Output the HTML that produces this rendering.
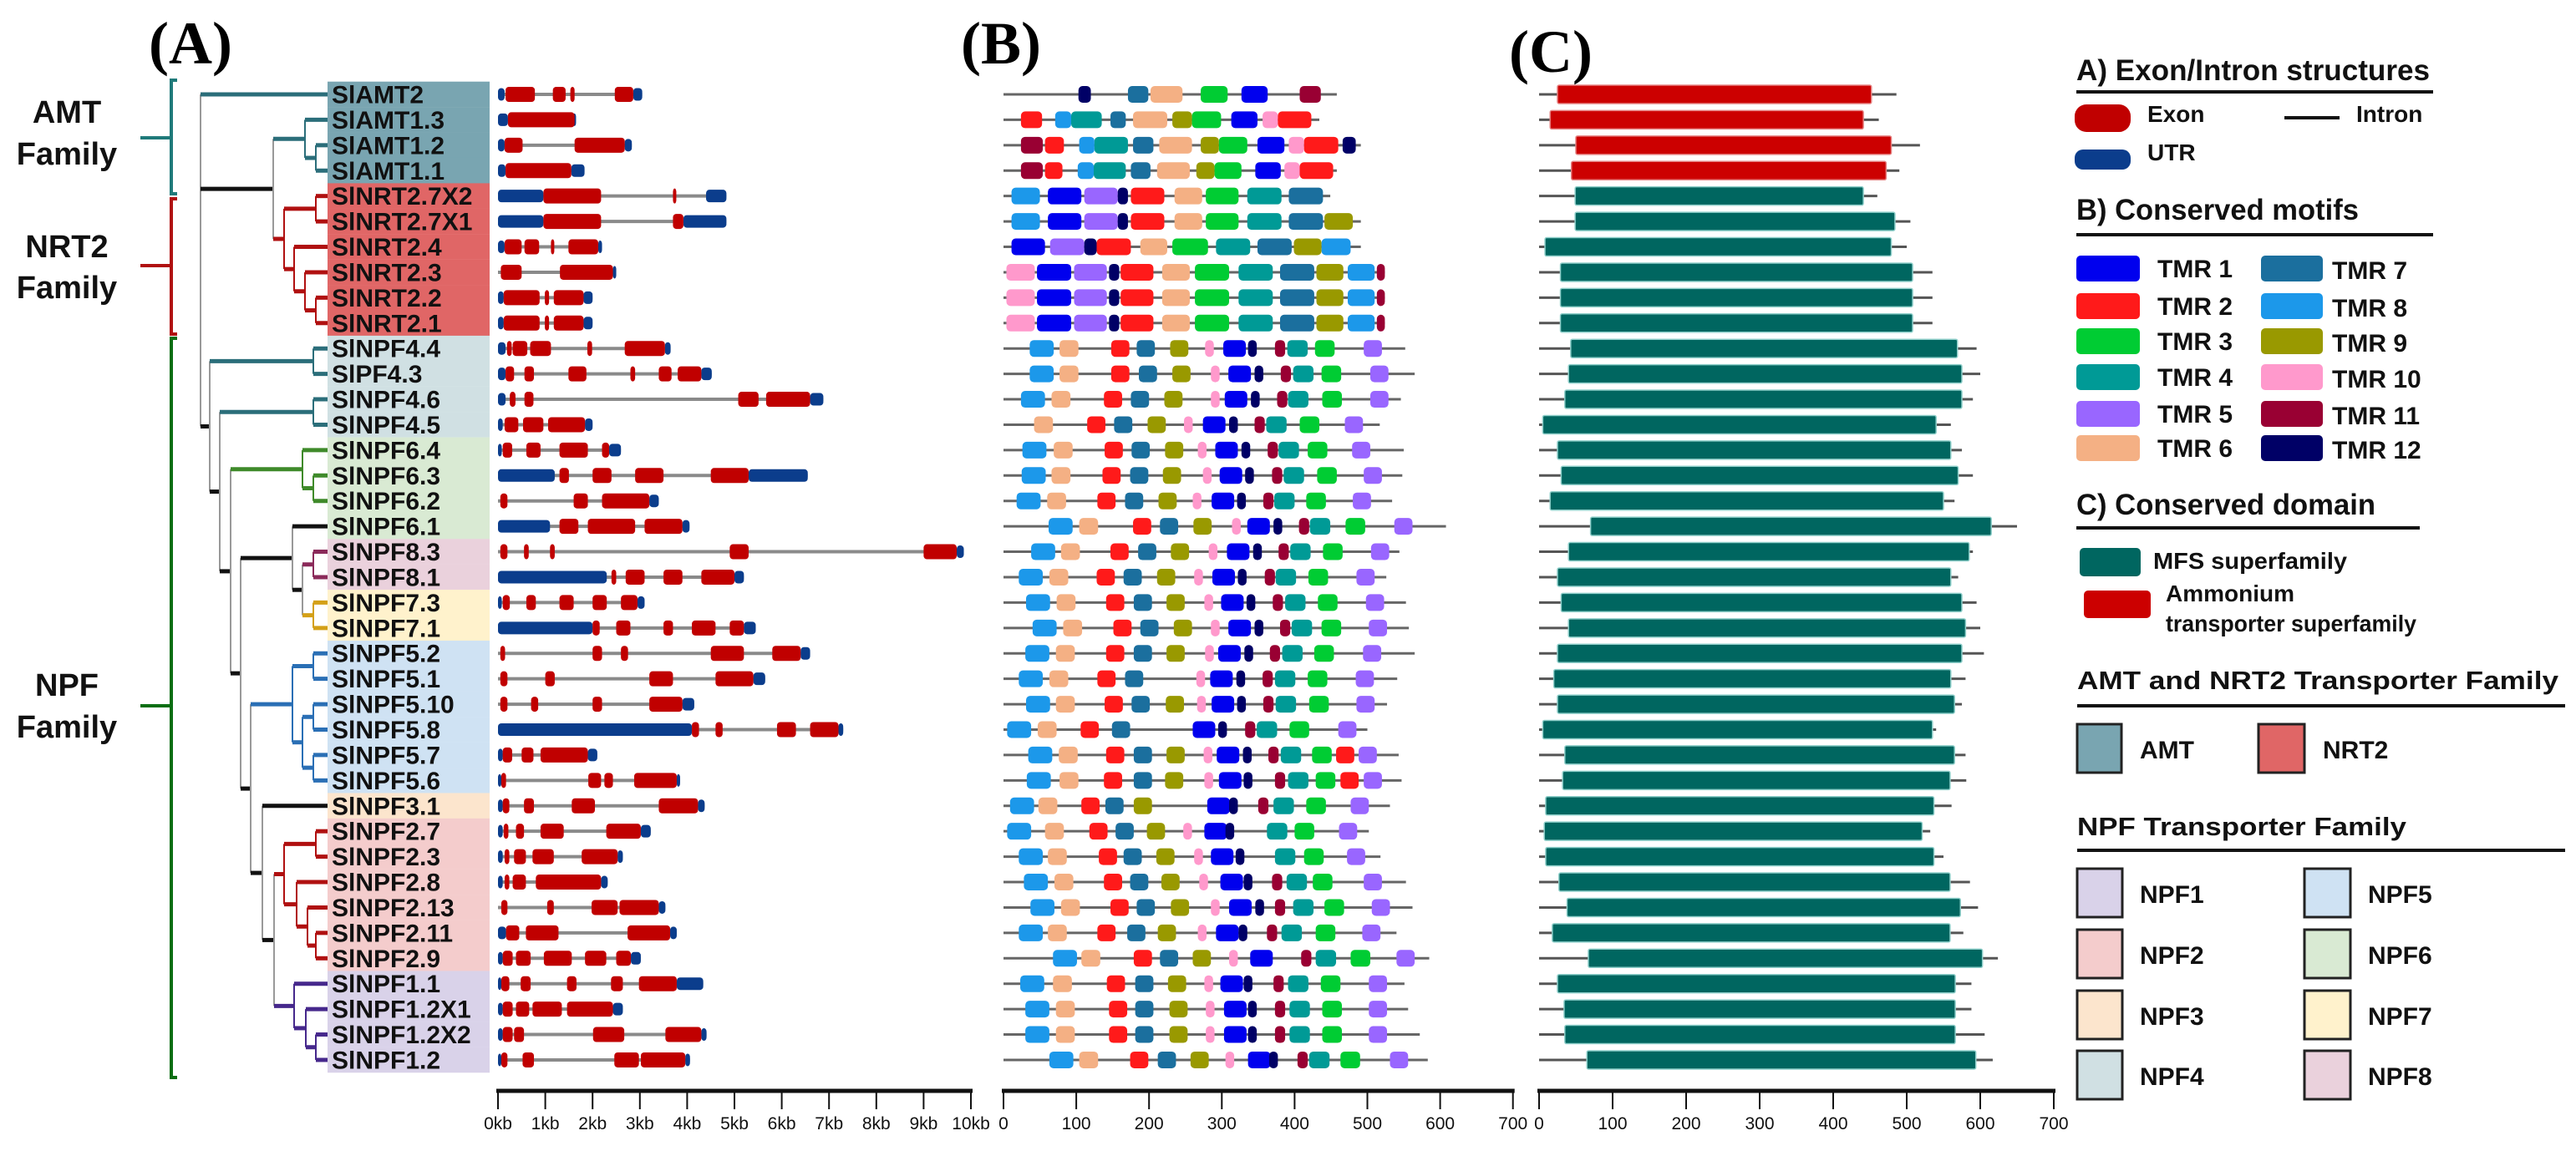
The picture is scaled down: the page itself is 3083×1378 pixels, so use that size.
<!DOCTYPE html>
<html><head><meta charset="utf-8"><title>Gene structure, motifs and domains</title>
<style>
html,body{margin:0;padding:0;background:#fff;}
svg{display:block;font-family:"Liberation Sans",Arial,sans-serif;}
.b{font-weight:bold;}
</style></head>
<body>
<svg id="fig" width="3083" height="1378" viewBox="0 0 3083 1378" xmlns="http://www.w3.org/2000/svg">
<rect x="0" y="0" width="3083" height="1378" fill="#fff"/>
<text x="178" y="76" font-family="Liberation Serif, serif" font-weight="bold" font-size="72">(A)</text>
<text x="1150" y="76" font-family="Liberation Serif, serif" font-weight="bold" font-size="72">(B)</text>
<text x="1806" y="86" font-family="Liberation Serif, serif" font-weight="bold" font-size="72">(C)</text>
<g id="gTree"></g>
<g id="gLabels"></g>
<g id="gA"></g>
<g id="gB"></g>
<g id="gC"></g>
<g id="gAxes"></g>
<g id="gLegend"></g>
</svg>
<script>
// ---------- data ----------
const genes = ["SlAMT2","SlAMT1.3","SlAMT1.2","SlAMT1.1","SlNRT2.7X2","SlNRT2.7X1","SlNRT2.4","SlNRT2.3","SlNRT2.2","SlNRT2.1",
"SlNPF4.4","SlPF4.3","SlNPF4.6","SlNPF4.5","SlNPF6.4","SlNPF6.3","SlNPF6.2","SlNPF6.1","SlNPF8.3","SlNPF8.1","SlNPF7.3","SlNPF7.1",
"SlNPF5.2","SlNPF5.1","SlNPF5.10","SlNPF5.8","SlNPF5.7","SlNPF5.6","SlNPF3.1","SlNPF2.7","SlNPF2.3","SlNPF2.8","SlNPF2.13","SlNPF2.11","SlNPF2.9",
"SlNPF1.1","SlNPF1.2X1","SlNPF1.2X2","SlNPF1.2"];
const groups = ["AMT","AMT","AMT","AMT","NRT2","NRT2","NRT2","NRT2","NRT2","NRT2","NPF4","NPF4","NPF4","NPF4","NPF6","NPF6","NPF6","NPF6","NPF8","NPF8","NPF7","NPF7",
"NPF5","NPF5","NPF5","NPF5","NPF5","NPF5","NPF3","NPF2","NPF2","NPF2","NPF2","NPF2","NPF2","NPF1","NPF1","NPF1","NPF1"];
// gene lengths (kb)
const geneLen = [3.05,1.64,2.83,1.83,4.83,4.83,2.2,2.48,2.0,2.0,3.65,4.52,6.88,2.0,2.6,6.55,3.4,4.05,9.85,5.2,3.1,5.45,6.6,5.65,4.15,7.3,2.1,3.85,4.37,3.23,2.64,2.32,3.54,3.78,3.02,4.34,2.64,4.41,4.06];
// exons (kb)
const exons = [
[[0.16,0.78],[1.16,1.43],[1.53,1.62],[2.47,2.86]],
[[0.21,1.62]],
[[0.14,0.52],[1.62,2.68]],
[[0.16,1.55]],
[[0.96,2.18],[3.70,3.77]],
[[0.96,2.18],[3.70,3.92]],
[[0.14,0.50],[0.56,0.87],[1.12,1.18],[1.49,2.12]],
[[0.06,0.50],[1.31,2.43]],
[[0.12,0.88],[0.99,1.08],[1.18,1.81]],
[[0.12,0.88],[0.99,1.08],[1.18,1.81]],
[[0.19,0.29],[0.31,0.62],[0.68,1.12],[1.89,1.99],[2.68,3.53]],
[[0.16,0.34],[0.56,0.76],[1.49,1.87],[2.80,2.90],[3.40,3.67],[3.80,4.30]],
[[0.25,0.37],[0.56,0.75],[5.08,5.51],[5.67,6.60]],
[[0.14,0.43],[0.53,0.96],[1.06,1.84]],
[[0.1,0.3],[0.6,0.9],[1.3,1.9],[2.2,2.35]],
[[1.3,1.5],[2.0,2.4],[2.9,3.5],[4.5,5.3]],
[[0.05,0.2],[1.6,1.9],[2.2,3.2]],
[[1.3,1.7],[1.9,2.9],[3.1,3.9]],
[[0.05,0.2],[0.55,0.65],[1.1,1.2],[4.9,5.3],[9.0,9.7]],
[[2.4,2.5],[2.7,3.1],[3.5,3.9],[4.3,5.0]],
[[0.1,0.25],[0.6,0.8],[1.3,1.6],[2.0,2.3],[2.6,2.95]],
[[2.0,2.15],[2.5,2.8],[3.5,3.7],[4.1,4.6],[4.9,5.2]],
[[0.05,0.15],[2.0,2.2],[2.6,2.75],[4.5,5.2],[5.8,6.4]],
[[0.05,0.2],[1.0,1.2],[3.2,3.7],[4.6,5.4]],
[[0.05,0.2],[0.7,0.85],[2.0,2.2],[3.2,3.9]],
[[4.1,4.25],[4.6,4.75],[5.9,6.3],[6.6,7.2]],
[[0.1,0.3],[0.5,0.75],[0.9,1.9]],
[[0.07,0.17],[1.91,2.18],[2.25,2.43],[2.88,3.78]],
[[0.1,0.24],[0.55,0.76],[1.56,2.05],[3.4,4.23]],
[[0.12,0.22],[0.38,0.55],[0.9,1.39],[2.29,3.02]],
[[0.14,0.24],[0.34,0.59],[0.73,1.18],[1.77,2.53]],
[[0.14,0.24],[0.31,0.59],[0.8,2.18]],
[[0.07,0.2],[1.04,1.18],[1.98,2.53],[2.57,3.4]],
[[0.17,0.45],[0.59,1.28],[2.74,3.64]],
[[0.1,0.31],[0.38,0.69],[0.97,1.56],[1.84,2.29],[2.5,2.81]],
[[0.07,0.24],[0.48,0.69],[1.46,1.66],[2.39,2.64],[2.98,3.78]],
[[0.1,0.31],[0.38,0.66],[0.73,1.35],[1.46,2.43]],
[[0.1,0.31],[0.34,0.55],[2.01,2.67],[3.54,4.3]],
[[0.07,0.2],[0.52,0.76],[2.46,2.98],[3.02,3.96]]
];
// UTRs (kb)
const utrs = [
[[0.0,0.14],[2.86,3.05]],[[0.0,0.21],[1.58,1.64]],[[0.0,0.14],[2.68,2.83]],[[0.0,0.16],[1.55,1.83]],
[[0.0,0.96],[4.40,4.83]],[[0.0,0.96],[3.92,4.83]],[[0.0,0.14],[2.12,2.2]],[[2.43,2.48]],[[0.0,0.12],[1.81,2.0]],[[0.0,0.12],[1.81,2.0]],
[[0.0,0.16],[3.53,3.65]],[[0.0,0.16],[4.30,4.52]],[[0.0,0.16],[6.60,6.88]],[[0.0,0.1],[1.84,2.0]],
[[0.0,0.08],[2.35,2.6]],[[0.0,1.2],[5.3,6.55]],[[3.2,3.4]],[[0.0,1.1],[3.9,4.05]],[[9.7,9.85]],[[0.0,2.3],[5.0,5.2]],
[[0.0,0.08],[2.95,3.1]],[[0.0,2.0],[5.2,5.45]],[[6.4,6.6]],[[5.4,5.65]],[[3.9,4.15]],[[0.0,4.1],[7.2,7.3]],[[0.0,0.1],[1.9,2.1]],
[[0.0,0.07],[3.78,3.85]],[[0.0,0.1],[4.23,4.37]],[[0.0,0.1],[3.02,3.23]],[[0.0,0.1],[2.53,2.64]],[[0.0,0.1],[2.18,2.32]],[[3.4,3.54]],
[[0.0,0.17],[3.64,3.78]],[[0.0,0.1],[2.81,3.02]],[[0.0,0.07],[3.78,4.34]],[[0.0,0.1],[2.43,2.64]],[[0.0,0.1],[4.3,4.41]],[[0.0,0.07],[3.96,4.06]]
];
// protein lengths (aa) for motif panel
const protLen = [458,434,491,458,449,491,491,524,524,524,552,565,546,517,550,548,534,608,544,526,553,557,565,541,527,500,543,547,531,502,518,553,562,540,585,551,556,572,583];
// motif length (aa) by motif id for NPF rows
const motifLen = [0,31,25,27,28,25,26,25,33,25,12,14,12];
// motifs: [id, start] or [id, start, end]
const motifs = [
[[12,103,120],[7,171,199],[6,202,246],[3,271,308],[1,327,363],[11,407,436]],
[[2,24,53],[8,71,93],[4,93,135],[7,147,168],[6,178,225],[9,232,259],[3,259,299],[1,313,349],[10,356,377],[2,377,423]],
[[11,24,54],[2,57,83],[8,104,125],[4,125,171],[7,178,206],[6,214,259],[9,271,296],[3,296,335],[1,349,386],[10,392,413],[2,413,460],[12,466,484]],
[[11,24,54],[2,57,81],[8,102,124],[4,124,168],[7,175,202],[6,211,256],[9,265,290],[3,290,327],[1,346,381],[10,386,407],[2,407,453]],
[[8,11,50],[1,61,107],[5,111,157],[12,157,171],[2,175,221],[6,235,273],[3,278,323],[4,335,382],[7,392,439]],
[[8,11,50],[1,61,107],[5,111,157],[12,157,171],[2,175,221],[6,235,273],[3,278,323],[4,335,382],[7,392,439],[9,441,480]],
[[1,11,57],[5,64,111],[12,111,128],[2,128,175],[6,188,225],[3,232,281],[4,292,339],[7,349,396],[9,399,437],[8,437,477]],
[[10,4,43],[1,46,93],[5,97,142],[12,145,159],[2,161,206],[6,218,256],[3,263,310],[4,323,370],[7,380,427],[9,430,467],[8,473,510],[11,513,524]],
[[10,4,43],[1,46,93],[5,97,142],[12,145,159],[2,161,206],[6,218,256],[3,263,310],[4,323,370],[7,380,427],[9,430,467],[8,473,510],[11,513,524]],
[[10,4,43],[1,46,93],[5,97,142],[12,145,159],[2,161,206],[6,218,256],[3,263,310],[4,323,370],[7,380,427],[9,430,467],[8,473,510],[11,513,524]],
[[8,36],[6,77],[2,148],[7,183],[9,229],[10,277],[1,302],[12,336],[11,373],[4,390],[3,428],[5,495]],
[[8,36],[6,77],[2,148],[7,186],[9,232],[10,285],[1,309],[12,345],[11,381],[4,398],[3,437],[5,504]],
[[8,24],[6,66],[2,138],[7,175],[9,221],[10,285],[1,304],[12,340],[11,376],[4,391],[3,438],[5,504]],
[[6,42],[2,115],[7,152],[9,198],[10,248],[1,274],[12,310],[11,345],[4,361],[3,407],[5,469]],
[[8,26],[6,69],[2,139],[7,176],[9,222],[10,267],[1,291],[12,327],[11,363],[4,378],[3,418],[5,479]],
[[8,25],[6,66],[2,136],[7,174],[9,219],[10,274],[1,297],[12,332],[11,369],[4,385],[3,431],[5,495]],
[[8,18],[6,60],[2,129],[7,167],[9,213],[10,260],[1,286],[12,321],[11,357],[4,372],[3,416],[5,480]],
[[8,62],[6,104],[2,178],[7,215],[9,261],[10,314],[1,335],[12,371],[11,406],[4,421],[3,470],[5,537]],
[[8,38],[6,79],[2,147],[7,185],[9,230],[10,282],[1,307],[12,343],[11,378],[4,394],[3,439],[5,505]],
[[8,21],[6,63],[2,128],[7,165],[9,211],[10,262],[1,287],[12,322],[11,359],[4,374],[3,419],[5,485]],
[[8,31],[6,73],[2,141],[7,179],[9,224],[10,276],[1,299],[12,334],[11,370],[4,387],[3,432],[5,498]],
[[8,40],[6,82],[2,151],[7,188],[9,234],[10,285],[1,309],[12,345],[11,380],[4,396],[3,437],[5,502]],
[[8,30],[6,72],[2,141],[7,179],[9,224],[10,277],[1,295],[12,331],[11,366],[4,383],[3,427],[5,494]],
[[8,21],[6,63],[2,129],[7,167],[10,265],[1,284],[12,320],[11,356],[4,373],[3,418],[5,484]],
[[8,31],[6,72],[2,139],[7,176],[9,223],[10,266],[1,286],[12,321],[11,357],[4,374],[3,420],[5,485]],
[[8,5],[6,47],[2,106],[7,149],[1,260],[12,295],[11,332],[4,348],[3,393],[5,460]],
[[8,34],[6,76],[2,141],[7,179],[9,224],[10,275],[1,293],[12,329],[11,364],[4,381],[3,424],[2,457],[5,488]],
[[8,32],[6,77],[2,138],[7,179],[9,222],[10,276],[1,296],[12,330],[11,373],[4,391],[3,429],[2,463],[5,495]],
[[8,9],[6,48],[2,107],[7,140],[9,179],[1,280],[12,310],[11,350],[4,371],[3,416],[5,477]],
[[8,5],[6,57],[2,118],[7,154],[9,197],[10,247],[1,276],[12,305],[4,362],[3,400],[5,461]],
[[8,21],[6,61],[2,131],[7,165],[9,210],[10,262],[1,285],[12,319],[4,373],[3,413],[5,472]],
[[8,28],[6,70],[2,138],[7,174],[9,217],[10,269],[1,298],[12,330],[11,369],[4,389],[3,425],[5,495]],
[[8,37],[6,79],[2,147],[7,183],[9,230],[10,285],[1,310],[12,346],[11,373],[4,398],[3,441],[5,506]],
[[8,21],[6,61],[2,129],[7,170],[9,212],[10,267],[1,292],[12,323],[11,362],[4,382],[3,429],[5,493]],
[[8,68],[6,107],[2,179],[7,215],[9,260],[10,310],[1,339],[11,409],[4,429],[3,477],[5,540]],
[[8,23],[6,68],[2,142],[7,181],[9,226],[10,276],[1,298],[12,330],[11,371],[4,391],[3,436],[5,502]],
[[8,30],[6,72],[2,145],[7,181],[9,228],[10,278],[1,303],[12,336],[11,373],[4,393],[3,438],[5,502]],
[[8,30],[6,72],[2,145],[7,181],[9,228],[10,278],[1,303],[12,336],[11,373],[4,393],[3,438],[5,502]],
[[8,63],[6,104],[2,174],[7,212],[9,257],[10,305],[1,336],[12,365],[11,404],[4,420],[3,463],[5,531]]
];
// conserved domain: line length, domain start, domain end (aa)
const domLen = [486,462,518,490,460,505,500,535,535,535,595,600,590,560,575,590,565,650,590,570,595,600,605,580,575,540,580,581,561,532,550,586,597,577,624,588,588,606,617];
const domStart = [25,15,50,44,49,49,8,29,29,29,43,40,35,5,25,30,15,70,40,25,30,40,25,20,25,5,35,32,9,7,9,27,38,18,67,25,34,35,65];
const domEnd = [452,441,479,472,441,484,479,508,508,508,569,575,575,540,560,570,550,615,585,560,575,580,575,560,565,535,565,559,537,521,537,559,573,559,603,566,566,566,594];
const kbTicks = ["0kb","1kb","2kb","3kb","4kb","5kb","6kb","7kb","8kb","9kb","10kb"];
const aaTicks = [0,100,200,300,400,500,600,700];

// ---------- scales ----------
const NS="http://www.w3.org/2000/svg";
function rowY(i){return 113+i*30.42;}
function xA(kb){return 596+kb*56.6;}
function xB(aa){return 1201+aa*0.871;}
function xC(aa){return 1842+aa*0.88;}
function mk(tag,attrs,parent,txt){const e=document.createElementNS(NS,tag);for(const k in attrs)e.setAttribute(k,attrs[k]);if(txt!==undefined)e.textContent=txt;parent.appendChild(e);return e;}
const groupColor={AMT:"#79a5b1",NRT2:"#e06666",NPF1:"#d9d2e9",NPF2:"#f4cccc",NPF3:"#fce5cd",NPF4:"#d0e0e3",NPF5:"#cfe2f3",NPF6:"#d9ead3",NPF7:"#fff2cc",NPF8:"#ead1dc"};
const motifColor=["","#0000ee","#ff1a1a","#00cc33","#009a96","#9966ff","#f4b084","#1b6f9e","#1c98ea","#999900","#ff99cc","#990033","#000066"];

// ---------- labels ----------
const gL=document.getElementById('gLabels');
genes.forEach((g,i)=>{
  const r=mk('rect',{x:392,y:rowY(i)-15.3,width:194,height:30.6,fill:groupColor[groups[i]]},gL);
  
  
  const t=mk('text',{x:397,y:rowY(i)+10.5,'font-size':30,'font-weight':'bold',fill:'#111'},gL,g);
  
  
});

// ---------- panel A ----------
const gA=document.getElementById('gA');
genes.forEach((g,i)=>{
  const y=rowY(i);
  const l=mk('line',{x1:xA(0),x2:xA(geneLen[i]),y1:y,y2:y,stroke:'#8a8a8a','stroke-width':4},gA);
  
  
  utrs[i].forEach(u=>{
    const r=mk('rect',{x:xA(u[0]),y:y-7.5,width:Math.max(4,xA(u[1])-xA(u[0])),height:15,rx:4,fill:'#0b3d8c'},gA);
    
    
  });
  exons[i].forEach(e=>{
    const r=mk('rect',{x:xA(e[0]),y:y-9,width:Math.max(4,xA(e[1])-xA(e[0])),height:18,rx:4,fill:'#c00000'},gA);
    
    
  });
});

// ---------- panel B ----------
const gB=document.getElementById('gB');
genes.forEach((g,i)=>{
  const y=rowY(i);
  const l=mk('line',{x1:xB(0),x2:xB(protLen[i]),y1:y,y2:y,stroke:'#666','stroke-width':3},gB);
  
  
  motifs[i].forEach(m=>{
    const s=m[1], e=(m.length>2)?m[2]:m[1]+motifLen[m[0]];
    const r=mk('rect',{x:xB(s),y:y-10,width:xB(e)-xB(s),height:20,rx:5,fill:motifColor[m[0]]},gB);
    
    
  });
});

// ---------- panel C ----------
const gC=document.getElementById('gC');
genes.forEach((g,i)=>{
  const y=rowY(i);
  const l=mk('line',{x1:xC(0),x2:xC(domLen[i]),y1:y,y2:y,stroke:'#555','stroke-width':3},gC);
  
  
  const amt=i<4;
  const r=mk('rect',{x:xC(domStart[i]),y:y-11,width:xC(domEnd[i])-xC(domStart[i]),height:22,rx:2,fill:amt?'#cc0000':'#006660',stroke:amt?'#e58080':'#8fcfca','stroke-width':1.5},gC);
  
  
});

// ---------- axes ----------
const gX=document.getElementById('gAxes');
function axis(x0,x1,vals,fx,name){
  const l=mk('line',{x1:x0-2,x2:x1+2,y1:1306,y2:1306,stroke:'#111','stroke-width':5},gX);
  
  
  vals.forEach((v,k)=>{
    const x=fx(k);
    const t=mk('line',{x1:x,x2:x,y1:1306,y2:1328,stroke:'#111','stroke-width':2},gX);
    
    
    const tx=mk('text',{x:x,y:1352,'font-size':21,'text-anchor':'middle',fill:'#111'},gX,String(v));
    
    
  });
}
axis(xA(0),xA(10),kbTicks,k=>xA(k),'kb-axis');
axis(xB(0),xB(700),aaTicks,k=>xB(aaTicks[k]),'motif-axis');
axis(xC(0),xC(700),aaTicks,k=>xC(aaTicks[k]),'domain-axis');

// ---------- tree ----------
const gT=document.getElementById('gTree');
function N(x,c,col,vcol){return {x:x,c:c,col:col,vcol:vcol||col};}
const TE="#2b6e7a",RD="#b01010",GR="#3f8a2a",MG="#8b2a5a",GD="#d4a017",BL="#2a6fb5",OR="#cc6e12",PU="#46288c",BK="#111",GY="#999";
const A12=N(378,[2,3],TE), A1=N(365,[1,A12],TE);
const N7=N(378,[4,5],RD), N21=N(378,[8,9],RD), N321=N(365,[7,N21],RD), N4321=N(352,[6,N321],RD), NR=N(340,[N7,N4321],RD);
const AN=N(327,[A1,NR],BK,GY);
const P44=N(375,[10,11],TE), P46=N(375,[12,13],TE);
const P632=N(375,[15,16],GR), P6=N(362,[14,P632],GR);
const P8=N(375,[18,19],MG), P7=N(375,[20,21],GD), P87=N(362,[P8,P7],BK,GY), P876=N(350,[17,P87],BK,GY);
const P51=N(375,[22,23],BL), P58=N(375,[24,25],BL), P56=N(375,[26,27],BL), P5b=N(362,[P58,P56],BL), P5=N(350,[P51,P5b],BL);
const P2a=N(378,[29,30],RD), P29=N(378,[33,34],RD), P213=N(368,[32,P29],RD), P2b=N(355,[31,P213],RD), P2=N(340,[P2a,P2b],RD);
const P12=N(378,[37,38],PU), P12b=N(366,[36,P12],PU), P1=N(352,[35,P12b],PU);
const P21=N(328,[P2,P1],BK,GY), P321=N(314,[28,P21],BK,GY), P5321=N(300,[P5,P321],BK,GY);
const Q=N(288,[P876,P5321],BK,GY), R=N(276,[P6,Q],BK,GY), S=N(263,[P46,R],BK,GY), T=N(251,[P44,S],BK,GY);
const ROOT=N(240,[0,AN,T],BK,GY);
function ny(n){return (typeof n==='number')?rowY(n):(ny(n.c[0])+ny(n.c[n.c.length-1]))/2;}
function colOf(ch,parent){return (typeof ch==='number')?parent.col:(ch.col===BK?BK:ch.col);}
function drawNode(n){
  const v=mk('line',{x1:n.x,x2:n.x,y1:ny(n.c[0]),y2:ny(n.c[n.c.length-1]),stroke:n.vcol,'stroke-width':2},gT);
  
  
  n.c.forEach(ch=>{
    const cx=(typeof ch==='number')?392:ch.x;
    let col=colOf(ch,n);
    if(n===ROOT && ch===0) col=TE;
    const h=mk('line',{x1:n.x,x2:cx,y1:ny(ch),y2:ny(ch),stroke:col,'stroke-width':5},gT);
    
    
    if(typeof ch!=='number') drawNode(ch);
  });
}
drawNode(ROOT);

// brackets
function bracket(y0,y1,ym,col,name){
  const p=mk('path',{d:`M212 ${y0} L205 ${y0} L205 ${y1} L212 ${y1} M205 ${ym} L168 ${ym}`,fill:'none',stroke:col,'stroke-width':4},gT);
  
  
}
bracket(96,232,165,"#1f7a7a","amt-bracket");
bracket(238,400,318,"#b01010","nrt2-bracket");
bracket(405,1290,845,"#0a6e12","npf-bracket");
[["AMT",147,"amt-family-label"],["Family",197,"amt-family-label-2"],["NRT2",308,"nrt2-family-label"],["Family",357,"nrt2-family-label-2"],["NPF",833,"npf-family-label"],["Family",883,"npf-family-label-2"]].forEach(a=>{
  const t=mk('text',{x:80,y:a[1],'font-size':38,'font-weight':'bold','text-anchor':'middle',fill:'#111'},gT,a[0]);
  
  
});

// ---------- legend ----------
const gG=document.getElementById('gLegend');
function txt(x,y,s,size,name,len){
  const a={x:x,y:y,'font-size':size,'font-weight':'bold',fill:'#111'};
  if(len){a.textLength=len;a.lengthAdjust='spacingAndGlyphs';}
  const t=mk('text',a,gG,s);
  
  
}
function hline(x0,x1,y,name){
  const l=mk('line',{x1:x0,x2:x1,y1:y,y2:y,stroke:'#111','stroke-width':4},gG);
  
  
}
function box(x,y,w,h,fill,name,rx,stroke){
  const r=mk('rect',{x:x,y:y,width:w,height:h,rx:rx||0,fill:fill,stroke:stroke||'none','stroke-width':stroke?3:0},gG);
  
  
}
txt(2485,96,"A) Exon/Intron structures",35,"legend-title-exon-intron",423);
hline(2485,2912,110,"legend-rule-a");
box(2483,125,67,33,"#c00000","legend-exon-swatch",14);
txt(2570,146,"Exon",28,"legend-exon-label");
hline(2734,2800,141,"legend-intron-swatch");
txt(2820,146,"Intron",28,"legend-intron-label");
box(2483,179,67,24,"#0b3d8c","legend-utr-swatch",10);
txt(2570,192,"UTR",28,"legend-utr-label");
txt(2485,263,"B) Conserved motifs",35,"legend-title-motifs",338);
hline(2485,2912,281,"legend-rule-b");
const tmrRowY=[321,366,408,451,495,536];
for(let k=0;k<6;k++){
  box(2485,tmrRowY[k]-15,76,31,motifColor[k+1],"legend-tmr"+(k+1)+"-swatch",5);
  txt(2582,tmrRowY[k]+11,"TMR "+(k+1),30,"legend-tmr"+(k+1)+"-label");
  box(2706,tmrRowY[k]-15,74,31,motifColor[k+7],"legend-tmr"+(k+7)+"-swatch",5);
  txt(2791,tmrRowY[k]+13,"TMR "+(k+7),30,"legend-tmr"+(k+7)+"-label");
}
txt(2485,616,"C) Conserved domain",35,"legend-title-domain",358);
hline(2485,2896,632,"legend-rule-c");
box(2489,656,73,34,"#006660","legend-mfs-swatch",5);
txt(2577,681,"MFS superfamily",28,"legend-mfs-label",232);
box(2494,707,80,33,"#cc0000","legend-ammonium-swatch",5);
txt(2592,720,"Ammonium",28,"legend-ammonium-label");
txt(2592,756,"transporter superfamily",28,"legend-ammonium-label-2",300);
txt(2486,825,"AMT and NRT2 Transporter Family",31,"legend-title-amt-nrt2",576);
hline(2486,3070,845,"legend-rule-amt-nrt2");
box(2486,867,53,58,"#79a5b1","legend-amt-swatch",0,"#222");
txt(2561,908,"AMT",30,"legend-amt-label");
box(2703,867,55,58,"#e06666","legend-nrt2-swatch",0,"#222");
txt(2780,908,"NRT2",30,"legend-nrt2-label");
txt(2486,1000,"NPF Transporter Family",31,"legend-title-npf",394);
hline(2486,3070,1018,"legend-rule-npf");
const npfRowY=[1040,1113,1186,1258];
for(let k=0;k<4;k++){
  box(2486,npfRowY[k],54,58,groupColor["NPF"+(k+1)],"legend-npf"+(k+1)+"-swatch",0,"#222");
  txt(2561,npfRowY[k]+41,"NPF"+(k+1),30,"legend-npf"+(k+1)+"-label");
  box(2758,npfRowY[k],55,58,groupColor["NPF"+(k+5)],"legend-npf"+(k+5)+"-swatch",0,"#222");
  txt(2834,npfRowY[k]+41,"NPF"+(k+5),30,"legend-npf"+(k+5)+"-label");
}
</script>
</body></html>
